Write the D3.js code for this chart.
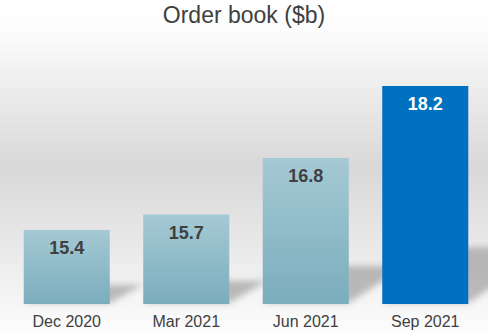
<!DOCTYPE html>
<html>
<head>
<meta charset="utf-8">
<script src="https://cdn.jsdelivr.net/npm/d3@7"></script>
<style>
html,body{margin:0;padding:0;background:#fff;}
svg{display:block;font-family:"Liberation Sans",Arial,sans-serif;}
</style>
</head>
<body>
<script>
const categories = ["Dec 2020", "Mar 2021", "Jun 2021", "Sep 2021"];
const values = [15.4, 15.7, 16.8, 18.2];
const highlight = [false, false, false, true];
const title = "Order book ($b)";

const W = 488, H = 334;
const svg = d3.select("body").append("svg").attr("width", W).attr("height", H);
const defs = svg.append("defs");

const bg = defs.append("linearGradient").attr("id","bg").attr("x1",0).attr("y1",0).attr("x2",0).attr("y2",1);
[[0,"#ffffff"],[0.08,"#fdfdfd"],[0.5,"#d8d8d8"],[0.78,"#ececec"],[1,"#fdfdfd"]].forEach(([o,c])=>bg.append("stop").attr("offset",o).attr("stop-color",c));

const barG = defs.append("linearGradient").attr("id","barg").attr("x1",0).attr("y1",0).attr("x2",0).attr("y2",1);
barG.append("stop").attr("offset",0).attr("stop-color","#a5c9d5");
barG.append("stop").attr("offset",1).attr("stop-color","#7badbc");

const blur = defs.append("filter").attr("id","blur").attr("x","-50%").attr("y","-50%").attr("width","200%").attr("height","200%");
blur.append("feGaussianBlur").attr("stdDeviation",3);

svg.append("rect").attr("width",W).attr("height",H).attr("fill","url(#bg)");

const x = d3.scaleBand().domain(categories).range([7,485]).paddingInner(0.28).paddingOuter(0.14);
const y = d3.scaleLinear().domain([13.96, 18.2]).range([304, 86]);

const data = categories.map((c,i)=>({c, v:values[i], hl:highlight[i]}));

// shadows
svg.append("g").selectAll("path").data(data).join("path")
  .attr("d", d=>{
    const x0 = x(d.c), x1 = x0 + x.bandwidth(), b = y.range()[0];
    const h = b - y(d.v);
    const sh = h*0.26, dx = sh*1.3 + 8;
    return `M${x0},${b-1}L${x1},${b-1}L${x1+dx},${b-sh}L${x0+dx},${b-sh}Z`;
  })
  .attr("fill","#8a8a8a").attr("opacity",0.55).attr("filter","url(#blur)");

// bars
svg.append("g").selectAll("rect").data(data).join("rect")
  .attr("x", d=>x(d.c)).attr("width", x.bandwidth())
  .attr("y", d=>y(d.v)).attr("height", d=>y.range()[0]-y(d.v))
  .attr("fill", d=>d.hl ? "#0070c0" : "url(#barg)");

// value labels
svg.append("g").selectAll("text").data(data).join("text")
  .attr("x", d=>x(d.c)+x.bandwidth()/2).attr("y", d=>y(d.v)+24)
  .attr("text-anchor","middle").attr("font-size",18).attr("font-weight","bold")
  .attr("fill", d=>d.hl ? "#ffffff" : "#404040")
  .text(d=>d.v.toFixed(1));

// category axis labels
const xAxis = d3.axisBottom(x).tickSize(0).tickPadding(0);
const ax = svg.append("g").attr("transform","translate(0,315)").call(xAxis);
ax.select(".domain").remove();
ax.selectAll("text").attr("font-size",16).attr("fill","#404040")
  .attr("font-family","Liberation Sans, Arial, sans-serif").attr("dy","0.75em");

svg.append("text").attr("x",W/2).attr("y",23).attr("text-anchor","middle")
  .attr("font-size",23).attr("fill","#404040").text(title);
</script>
</body>
</html>
